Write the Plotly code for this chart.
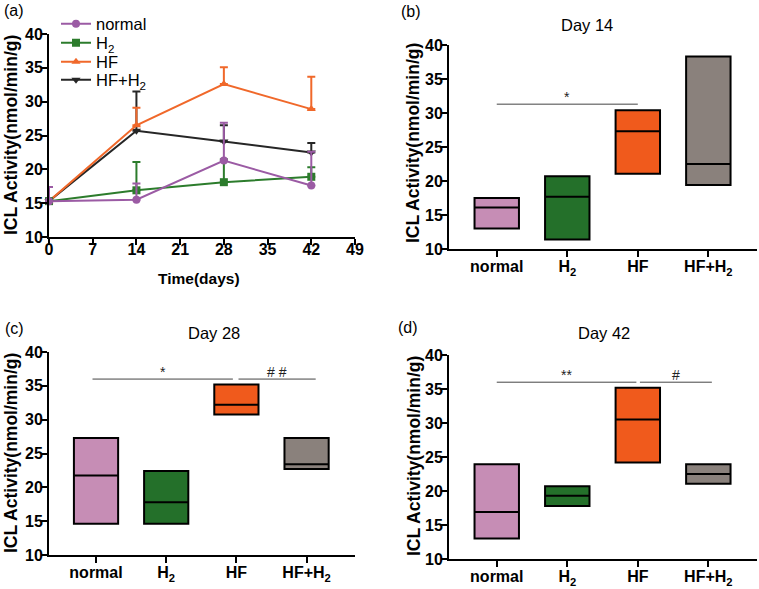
import plotly.graph_objects as go
import numpy as np

W, H = 759, 589

# ---------------- data ----------------
groups = ["normal", "H<sub>2</sub>", "HF", "HF+H<sub>2</sub>"]
days = [0, 14, 28, 42]

# panel (a): mean and upper error-bar ends
line_normal = [15.3, 15.5, 21.3, 17.6]
line_normal_up = [17.4, 17.9, 26.9, 22.6]
line_h2 = [15.3, 16.9, 18.1, 18.9]
line_h2_up = [15.3, 21.1, 21.5, 20.3]
line_hf = [15.3, 26.5, 32.6, 28.9]
line_hf_up = [15.3, 29.1, 35.1, 33.7]
line_hfh2 = [15.3, 25.7, 24.1, 22.5]
line_hfh2_up = [15.3, 31.5, 26.5, 23.9]

# panels (b)-(d): floating bars (min, max, mean line)
d14_min = [13.0, 11.4, 21.05, 19.4]
d14_max = [17.5, 20.7, 30.4, 38.3]
d14_mean = [16.1, 17.7, 27.3, 22.5]

d28_min = [14.6, 14.6, 30.75, 22.7]
d28_max = [27.3, 22.4, 35.2, 27.3]
d28_mean = [21.75, 17.8, 32.2, 23.4]

d42_min = [13.0, 17.8, 24.2, 21.05]
d42_max = [23.95, 20.7, 35.2, 23.95]
d42_mean = [16.9, 19.3, 30.5, 22.5]

# significance brackets: (from, to, level, label)
sig_14 = [(0.0, 2.0, 31.3, "*")]
sig_28 = [(-0.05, 1.95, 36.0, "*"), (2.03, 3.13, 36.0, "# #")]
sig_42 = [(0.0, 1.98, 36.0, "**"), (2.03, 3.05, 36.0, "#")]

line_colors = ["#9b5ba4", "#2c7c2c", "#f0682a", "#262626"]
line_symbols = ["circle", "square", "triangle-up", "triangle-down"]
bar_colors = ["#c68db5", "#24702a", "#f05a1c", "#8a817c"]

FONT = "Liberation Sans, Arial, sans-serif"


def px_x(p):
    return p / W


def px_y(p):
    return 1 - p / H


fig = go.Figure()

# ---------------- panel (a) ----------------
series = [
    (line_normal, line_normal_up),
    (line_h2, line_h2_up),
    (line_hf, line_hf_up),
    (line_hfh2, line_hfh2_up),
]
legend_names = ["legend", "legend2", "legend3", "legend4"]
draw_order = [3, 2, 1, 0]
for k in draw_order:
    mean, up = series[k]
    err = [u - m for u, m in zip(up, mean)]
    fig.add_trace(go.Scatter(
        x=days, y=mean, mode="lines+markers", name=groups[k],
        line=dict(color=line_colors[k], width=2),
        marker=dict(symbol=line_symbols[k], size=8, color=line_colors[k]),
        error_y=dict(type="data", symmetric=False, array=err,
                     arrayminus=[0] * len(err), color=line_colors[k],
                     thickness=2, width=4),
        cliponaxis=False, xaxis="x", yaxis="y",
        legend=legend_names[k], showlegend=True,
    ))

# ---------------- bar panels ----------------
bar_w = 0.63
panels = [
    ("x2", "y2", d14_min, d14_max, d14_mean, sig_14),
    ("x3", "y3", d28_min, d28_max, d28_mean, sig_28),
    ("x4", "y4", d42_min, d42_max, d42_mean, sig_42),
]
idx = list(range(len(groups)))
for xa, ya, mn, mx, me, sig in panels:
    fig.add_trace(go.Bar(
        x=idx, y=[b - a for a, b in zip(mn, mx)], base=mn, width=bar_w,
        marker=dict(color=bar_colors, line=dict(color="black", width=2)),
        xaxis=xa, yaxis=ya, showlegend=False,
    ))
    lx, ly = [], []
    for i, m in zip(idx, me):
        lx += [i - bar_w / 2, i + bar_w / 2, None]
        ly += [m, m, None]
    fig.add_trace(go.Scatter(
        x=lx, y=ly, mode="lines", line=dict(color="black", width=2),
        xaxis=xa, yaxis=ya, showlegend=False, hoverinfo="skip",
    ))
    for x0, x1, lv, lab in sig:
        fig.add_shape(type="line", x0=x0, x1=x1, y0=lv, y1=lv,
                      xref=xa, yref=ya, line=dict(color="#444", width=1))
        fig.add_annotation(x=(x0 + x1) / 2, y=lv, xref=xa, yref=ya,
                           text=lab, showarrow=False, yanchor="bottom",
                           yshift=-3, font=dict(family=FONT, size=14,
                                                color="#222"))

# ---------------- axes ----------------
axis_common = dict(
    showline=True, linecolor="black", linewidth=2, ticks="outside",
    ticklen=6, tickwidth=2, tickcolor="black", showgrid=False,
    zeroline=False, automargin=False,
    tickfont=dict(family=FONT, size=16, color="black", weight="bold"),
)
y_common = dict(axis_common, range=[10, 40],
                tickvals=[10, 15, 20, 25, 30, 35, 40], ticklabelstandoff=-5)
cat_common = dict(axis_common, tickvals=list(range(len(groups))),
                  ticktext=groups, ticklabelstandoff=-4)

left_dom = [px_x(49), px_x(355)]
right_dom = [px_x(449), px_x(757)]

fig.update_layout(
    xaxis=dict(domain=left_dom, anchor="y", range=[0, 49],
               tickvals=[0, 7, 14, 21, 28, 35, 42, 49],
               ticklabelstandoff=-9, **axis_common),
    yaxis=dict(domain=[px_y(237), px_y(34)], anchor="x", **y_common),
    xaxis2=dict(domain=right_dom, anchor="y2", range=[-0.677, 3.69],
                **cat_common),
    yaxis2=dict(domain=[px_y(249), px_y(45)], anchor="x2", **y_common),
    xaxis3=dict(domain=left_dom, anchor="y3", range=[-0.67, 3.69],
                **cat_common),
    yaxis3=dict(domain=[px_y(555), px_y(352)], anchor="x3", **y_common),
    xaxis4=dict(domain=right_dom, anchor="y4", range=[-0.677, 3.69],
                **cat_common),
    yaxis4=dict(domain=[px_y(559), px_y(355)], anchor="x4", **y_common),
)

# legends: one per series so the row spacing matches the reference
legend_rows = [24, 43, 62, 80]
for name, row in zip(legend_names, legend_rows):
    fig.update_layout({name: dict(
        x=px_x(56), y=px_y(row), xanchor="left", yanchor="middle",
        bgcolor="rgba(0,0,0,0)", borderwidth=0, itemwidth=30,
        font=dict(family=FONT, size=16.5, color="black"),
    )})

# ---------------- text ----------------
def add_text(text, x, y, size, bold=False, angle=0, xanchor="center"):
    fig.add_annotation(
        text=f"<b>{text}</b>" if bold else text, x=px_x(x), y=px_y(y),
        xref="paper", yref="paper", showarrow=False, textangle=angle,
        xanchor=xanchor, yanchor="middle",
        font=dict(family=FONT, size=size, color="black"),
    )

ytitle = "ICL Activity(nmol/min/g)"
add_text(ytitle, 11, 135, 17.5, bold=True, angle=-90)
add_text(ytitle, 413, 143, 17.5, bold=True, angle=-90)
add_text(ytitle, 11, 453, 17.5, bold=True, angle=-90)
add_text(ytitle, 414, 456, 17.5, bold=True, angle=-90)
add_text("Time(days)", 199, 278, 15.5, bold=True)

add_text("(a)", 2, 11, 16, xanchor="left")
add_text("(b)", 399, 12, 16, xanchor="left")
add_text("(c)", 3, 328, 16, xanchor="left")
add_text("(d)", 396, 327, 16, xanchor="left")

add_text("Day 14", 587, 25, 16.5)
add_text("Day 28", 214, 333, 16.5)
add_text("Day 42", 604, 333, 16.5)

fig.update_layout(
    width=W, height=H, margin=dict(l=0, r=0, t=0, b=0),
    paper_bgcolor="white", plot_bgcolor="white",
    font=dict(family=FONT, color="black"),
)

fig.write_html(
    "out.html",
    config={"displayModeBar": False},
    post_script="document.body.style.margin='0';"
                "document.body.style.overflow='hidden';",
)
